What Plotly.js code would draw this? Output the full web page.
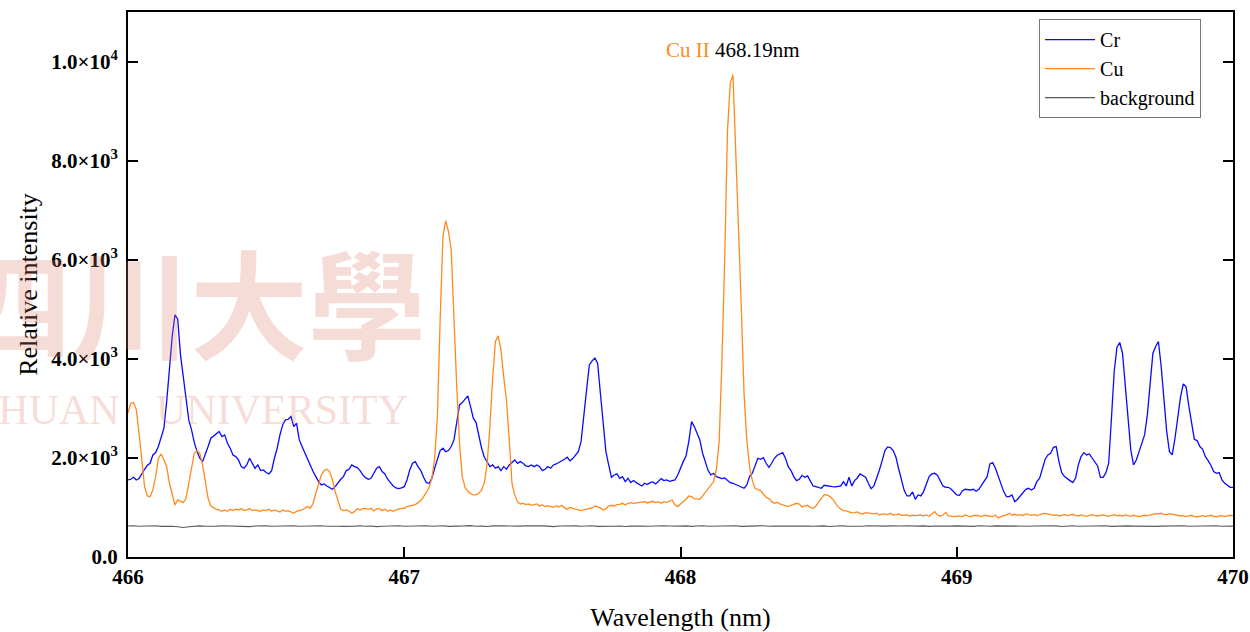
<!DOCTYPE html>
<html>
<head>
<meta charset="utf-8">
<script src="https://cdn.plot.ly/plotly-3.0.1.min.js"></script>
<style>
  html, body { margin: 0; padding: 0; background: #ffffff; }
  #chart { width: 1250px; height: 632px; }
</style>
</head>
<body>
<div id="chart"></div>
<script>
// Emission spectra, 466–470 nm, sampled every 0.01 nm (Cr, Cu) and 0.02 nm (background)
const wavelengthStart = 466.0;
const stepLine = 0.01;
const stepBackground = 0.02;

const crIntensity = [
  1555,1569,1609,1555,1582,1690,1771,1851,1891,2060,
  2107,2229,2430,2599,3137,3844,4450,4888,4800,4080,
  3642,3104,2767,2565,2309,2127,1993,1925,2060,2229,
  2397,2444,2498,2532,2430,2464,2296,2195,2060,2026,
  1959,1824,1791,1858,1993,1905,1791,1858,1744,1757,
  1704,1677,1744,1993,2195,2464,2666,2767,2780,2834,
  2632,2700,2363,2229,2094,1959,1858,1724,1622,1522,
  1454,1474,1434,1407,1367,1421,1501,1569,1622,1744,
  1771,1858,1824,1804,1744,1656,1602,1569,1589,1690,
  1791,1824,1724,1677,1569,1501,1434,1394,1380,1394,
  1420,1555,1757,1891,1925,1824,1744,1609,1501,1488,
  1589,1791,1959,2148,2195,2127,2148,2229,2363,2767,
  3070,3117,3185,3252,3036,2801,2713,2430,2195,2013,
  1905,1824,1858,1791,1824,1744,1824,1771,1858,1905,
  1959,1891,1925,1891,1838,1824,1858,1824,1858,1824,
  1744,1771,1824,1791,1858,1878,1905,1945,1972,2013,
  1939,1986,2053,2127,2330,2801,3373,3878,3959,4013,
  3911,3306,2767,2127,1858,1609,1656,1677,1589,1622,
  1522,1589,1501,1542,1501,1474,1434,1488,1461,1501,
  1515,1474,1522,1582,1542,1555,1528,1542,1555,1656,
  1811,1925,2040,2330,2733,2632,2498,2363,2094,1892,
  1744,1656,1690,1622,1595,1582,1595,1542,1501,1488,
  1461,1434,1407,1387,1454,1622,1690,1858,1993,1972,
  2006,1892,1811,1892,1993,2053,2073,2107,1993,1824,
  1744,1622,1542,1569,1649,1609,1636,1522,1434,1421,
  1407,1387,1447,1434,1421,1421,1414,1427,1434,1522,
  1434,1609,1434,1542,1595,1676,1636,1609,1488,1380,
  1434,1589,1757,1946,2148,2222,2209,2148,2013,1771,
  1542,1340,1232,1232,1313,1165,1252,1232,1320,1474,
  1622,1676,1690,1649,1555,1434,1407,1407,1367,1306,
  1252,1245,1333,1367,1353,1353,1367,1326,1367,1454,
  1555,1622,1878,1905,1791,1636,1454,1320,1218,1218,
  1252,1117,1165,1232,1292,1367,1387,1353,1387,1521,
  1589,1791,1973,2060,2094,2215,2229,1926,1703,1622,
  1589,1542,1501,1589,1858,2026,2107,2060,2080,1993,
  1905,1838,1609,1609,1703,1892,2801,3743,4235,4329,
  4113,3508,2767,2161,1858,1959,2127,2282,2464,2868,
  3575,4113,4248,4349,3844,3104,2531,2127,2060,2397,
  2868,3225,3494,3440,3050,2686,2377,2350,2229,2175,
  2026,1946,1851,1723,1690,1703,1555,1488,1441,1407,
  1407
];

const cuIntensity = [
  2909,3104,3117,2976,2498,1891,1421,1232,1218,1353,
  1622,1993,2080,1959,1824,1488,1252,1050,1151,1117,
  1097,1185,1488,1824,2094,2148,2094,1858,1488,1185,
  1030,997,963,950,923,950,923,963,936,963,
  950,977,936,950,977,936,950,936,923,950,
  936,963,923,950,936,909,950,923,936,909,
  882,923,936,950,983,1017,983,1084,1286,1488,
  1656,1744,1771,1724,1555,1320,1117,963,936,950,
  929,882,916,977,949,977,983,963,983,929,
  970,977,936,963,923,949,923,949,970,983,
  983,1017,1030,1030,1057,1097,1138,1218,1299,1407,
  1589,1993,2834,4787,6470,6790,6571,6201,4719,3440,
  2296,1622,1407,1326,1279,1252,1252,1286,1353,1501,
  1891,2632,3608,4349,4463,4181,3642,3171,2363,1488,
  1252,1117,1070,1084,1057,1070,1044,1064,1070,1030,
  1050,1017,1037,1017,1003,1030,1010,1044,990,963,
  1003,983,970,949,936,949,963,977,990,1030,
  1016,990,949,977,1030,1044,1030,1057,1064,1084,
  1050,1084,1097,1084,1091,1097,1111,1117,1091,1111,
  1124,1097,1117,1084,1117,1104,1124,1151,1050,1016,
  1070,1117,1165,1232,1218,1178,1165,1165,1232,1299,
  1367,1441,1522,1771,2330,3979,5999,8591,9560,9736,
  8300,6672,5056,3306,2363,1824,1542,1387,1360,1340,
  1272,1205,1178,1117,1084,1104,1070,1050,1044,1016,
  1044,1064,1084,1070,1010,1030,1044,1003,983,1030,
  1111,1205,1259,1252,1225,1171,1097,1016,970,936,
  929,909,889,896,909,882,869,896,882,875,
  869,882,848,869,855,855,882,848,855,869,
  842,842,848,828,842,835,835,848,828,848,
  822,869,916,848,828,848,896,828,815,815,
  822,828,815,848,828,815,835,842,828,815,
  842,835,822,815,842,788,815,828,848,882,
  848,862,842,855,835,869,848,842,855,835,
  848,875,882,862,855,842,848,828,842,855,
  835,848,862,842,828,848,835,822,842,855,
  835,828,842,848,835,822,842,855,835,842,
  828,848,835,822,842,835,815,828,842,835,
  848,862,875,869,882,862,855,875,862,848,
  842,828,835,815,828,842,822,808,822,835,
  815,828,842,822,808,828,835,815,828,842,
  835
];

const backgroundIntensity = [
  626,632,620,628,624,630,618,626,622,612,596,610,620,628,622,616,624,632,626,620,628,622,614,626,634,
  628,620,624,618,628,632,622,626,616,624,630,620,626,622,618,628,624,632,620,626,614,622,628,624,630,
  622,626,618,628,632,620,624,630,618,626,622,628,634,620,624,616,628,622,630,626,618,624,632,626,620,
  628,624,614,626,630,622,628,620,626,632,618,624,628,622,626,616,624,630,626,620,628,622,632,626,620,
  624,628,618,626,632,622,626,620,628,624,630,618,626,622,628,632,620,624,626,618,628,630,622,626,620,
  624,628,616,626,630,624,620,628,622,632,626,618,624,628,622,626,630,620,624,628,618,626,622,630,624,
  628,622,626,618,630,624,620,628,626,632,618,624,628,622,626,630,620,624,628,616,626,632,622,626,620,
  628,624,630,618,626,622,628,624,620,630,626,618,624,628,622,626,632,620,624,628,618,626,630,622,626,
  624
];

const seriesNames = ['Cr', 'Cu', 'background'];
const seriesColors = ['#0a0aff', '#ff8a1c', '#5a5a5a'];

const yTickValues = [0, 2000, 4000, 6000, 8000, 10000];
const yTickLabels = ['0.0', '2.0×10<sup>3</sup>', '4.0×10<sup>3</sup>', '6.0×10<sup>3</sup>', '8.0×10<sup>3</sup>', '1.0×10<sup>4</sup>'];
const xTickValues = [466, 467, 468, 469, 470];

// Strongest Cu line, used for the line label
let peakIndex = 0;
cuIntensity.forEach((v, i) => { if (v > cuIntensity[peakIndex]) peakIndex = i; });
const peakWavelength = +(wavelengthStart + peakIndex * stepLine).toFixed(2);
const peakValue = cuIntensity[peakIndex];

const serif = 'Liberation Serif, Times New Roman, serif';

const traces = [
  { name: seriesNames[0], y: crIntensity, x0: wavelengthStart, dx: stepLine,
    type: 'scatter', mode: 'lines', line: { color: seriesColors[0], width: 1.3 }, hoverinfo: 'skip' },
  { name: seriesNames[1], y: cuIntensity, x0: wavelengthStart, dx: stepLine,
    type: 'scatter', mode: 'lines', line: { color: seriesColors[1], width: 1.3 }, hoverinfo: 'skip' },
  { name: seriesNames[2], y: backgroundIntensity, x0: wavelengthStart, dx: stepBackground,
    type: 'scatter', mode: 'lines', line: { color: seriesColors[2], width: 1.1 }, hoverinfo: 'skip' }
];

const watermark = 'rgba(220,120,100,0.26)';

const layout = {
  width: 1250,
  height: 632,
  margin: { l: 128, r: 17, t: 12, b: 75, pad: 0 },
  paper_bgcolor: '#ffffff',
  plot_bgcolor: '#ffffff',
  font: { family: serif, color: '#000000' },
  showlegend: true,
  xaxis: {
    range: [466, 470],
    tickvals: xTickValues,
    ticks: 'inside', ticklen: 10, tickwidth: 2, tickcolor: '#000',
    showline: true, linewidth: 2, linecolor: '#000', mirror: true,
    showgrid: false, zeroline: false,
    tickfont: { family: serif, size: 21, weight: 'bold', color: '#000' },
    title: { text: 'Wavelength (nm)', font: { family: serif, size: 26, color: '#000' }, standoff: 20 }
  },
  yaxis: {
    range: [0, 11000],
    tickvals: yTickValues,
    ticktext: yTickLabels,
    ticks: 'inside', ticklen: 10, tickwidth: 2, tickcolor: '#000',
    showline: true, linewidth: 2, linecolor: '#000', mirror: 'ticks',
    showgrid: false, zeroline: false,
    ticklabelstandoff: 4,
    tickfont: { family: serif, size: 21, weight: 'bold', color: '#000' },
    title: { text: 'Relative intensity', font: { family: serif, size: 26, color: '#000' }, standoff: 6 }
  },
  legend: {
    x: 0.8245, y: 0.987, xanchor: 'left', yanchor: 'top',
    bgcolor: '#ffffff', bordercolor: '#777777', borderwidth: 1,
    font: { family: serif, size: 20, color: '#000' },
    itemwidth: 50, tracegroupgap: 0
  },
  annotations: [
    { xref: 'paper', yref: 'paper', x: 0.0561, y: 0.472, xanchor: 'center', yanchor: 'middle',
      text: '四川大學', showarrow: false,
      font: { family: 'Noto Sans CJK TC, Noto Sans CJK SC, sans-serif', size: 118, weight: 'bold', color: watermark } },
    { xref: 'paper', yref: 'paper', x: 0.2552, y: 0.2697, xanchor: 'right', yanchor: 'middle',
      text: 'UNIVERSITY', showarrow: false,
      font: { family: serif, size: 42, color: watermark } },
    { xref: 'paper', yref: 'paper', x: -0.0054, y: 0.2697, xanchor: 'right', yanchor: 'middle',
      text: 'SICHUAN', showarrow: false,
      font: { family: serif, size: 42, color: watermark } },
    { xref: 'x', yref: 'y', x: peakWavelength, y: peakValue, xanchor: 'center', yanchor: 'bottom',
      yshift: 11, showarrow: false,
      text: '<span style="color:' + seriesColors[1] + '">Cu II</span> ' + peakWavelength.toFixed(2) + 'nm',
      font: { family: serif, size: 21, color: '#000' } }
  ]
};

Plotly.newPlot('chart', traces, layout, { displayModeBar: false, staticPlot: true });
</script>
</body>
</html>
